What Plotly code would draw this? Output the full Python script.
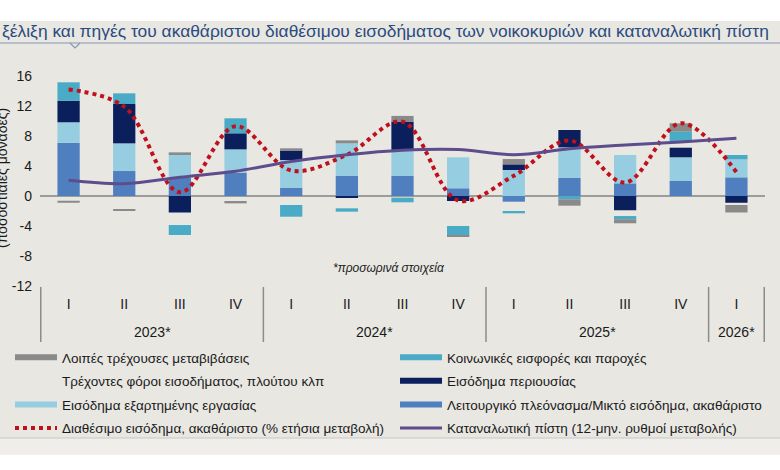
import plotly.graph_objects as go

# ---------------- data ----------------
years = ["2023*"] * 4 + ["2024*"] * 4 + ["2025*"] * 4 + ["2026*"]
quarters = ["I", "II", "III", "IV"] * 3 + ["I"]
y_tick_vals = [-12, -8, -4, 0, 4, 8, 12, 16]
y_tick_text = ["-12", "-8", "-4", "0", "4", "8", "12", "16"]

operating = [7.10, 3.33, 2.44, 3.11, 1.11, 2.67, 2.67, 1.03, -0.76, 2.44, 1.69, 2.00, 2.49]
compensation = [2.73, 3.69, 3.12, 3.11, 3.69, 4.35, 3.47, 4.13, 3.47, 4.05, 3.78, 3.16, 2.40]
property_inc = [2.87, 5.25, -2.20, 2.14, 1.33, -0.20, 3.78, -0.67, 0.75, 2.31, -1.90, 1.28, -0.90]
taxes = [-0.63, -1.75, -1.67, -0.76, -1.20, -1.44, -0.22, -3.33, -1.33, 0.00, -0.77, 0.89, -0.30]
social = [2.46, 1.42, -1.33, 2.00, -1.56, -0.45, -0.62, -1.33, -0.22, -0.44, -0.43, 1.24, 0.58]
other = [-0.27, -0.12, 0.26, -0.22, 0.23, 0.40, 0.76, -0.14, 0.71, -0.85, -0.54, 1.12, -1.00]
disposable = [14.2, 11.9, 0.5, 9.3, 3.4, 5.5, 9.9, -0.6, 2.7, 7.4, 1.8, 9.7, 3.2]
credit = [2.1, 1.65, 2.5, 3.3, 4.6, 5.5, 6.1, 6.2, 5.5, 6.3, 6.8, 7.2, 7.7]

names = {
    "other": "Λοιπές τρέχουσες μεταβιβάσεις",
    "social": "Κοινωνικές εισφορές και παροχές",
    "taxes": "Τρέχοντες φόροι εισοδήματος, πλούτου κλπ",
    "property": "Εισόδημα περιουσίας",
    "comp": "Εισόδημα εξαρτημένης εργασίας",
    "oper": "Λειτουργικό πλεόνασμα/Μικτό εισόδημα, ακαθάριστο",
    "disp": "Διαθέσιμο εισόδημα, ακαθάριστο (% ετήσια μεταβολή)",
    "credit": "Καταναλωτική πίστη (12-μην. ρυθμοί μεταβολής)",
}
colors = {
    "oper": "#4f7fbf",
    "comp": "#96cde0",
    "property": "#0a1f5c",
    "taxes": "rgba(0,0,0,0)",
    "social": "#4aabc6",
    "other": "#8a8a8a",
    "disp": "#c0101c",
    "credit": "#5e4d8c",
}
left_col = ["other", "taxes", "comp"]
right_col = ["social", "property", "oper"]

title_text = ("ξέλιξη και πηγές του ακαθάριστου διαθέσιμου εισοδήματος "
              "των νοικοκυριών και καταναλωτική πίστη")
y_title = "(ποσοστιαίες μονάδες)"
note = "*προσωρινά στοιχεία"

# ---------------- geometry ----------------
W, H = 780, 470
L, R, T, B = 40, 15, 76, 184
PW, PH = W - L - R, H - T - B


def px(x):
    return (x - L) / PW


def py(y):
    return (H - B - y) / PH


FONT = "Liberation Sans, Arial, sans-serif"
cats = [f"{y} {q}" for y, q in zip(years, quarters)]

fig = go.Figure()

stack = [("oper", operating), ("comp", compensation), ("property", property_inc),
         ("taxes", taxes), ("social", social), ("other", other)]
for key, vals in stack:
    fig.add_trace(go.Bar(x=cats, y=vals, name=names[key], marker_color=colors[key],
                         marker_line_width=0, showlegend=False))

# legend entries (line swatches like the original)
for col, lg in ((left_col, "legend"), (right_col, "legend2")):
    for key in col:
        fig.add_trace(go.Scatter(x=[None], y=[None], mode="lines", name=names[key],
                                 legend=lg, legendgroup=key,
                                 line=dict(color=colors[key], width=6)))

fig.add_trace(go.Scatter(x=cats, y=disposable, mode="lines", name=names["disp"],
                         legend="legend", legendgroup="disp",
                         line=dict(color=colors["disp"], width=4, dash="dot",
                                   shape="spline")))
fig.add_trace(go.Scatter(x=cats, y=credit, mode="lines", name=names["credit"],
                         legend="legend2", legendgroup="credit",
                         line=dict(color=colors["credit"], width=3, shape="spline")))

shapes = [
    dict(type="rect", xref="paper", yref="paper", x0=px(0), x1=px(W), y0=py(438), y1=py(21),
         fillcolor="#e8e7e2", line_width=0, layer="below"),
    dict(type="rect", xref="paper", yref="paper", x0=px(0), x1=px(W), y0=py(455), y1=py(438),
         fillcolor="#efeeea", line_width=0, layer="below"),
    dict(type="line", xref="paper", yref="paper", x0=px(0), x1=px(W), y0=py(438), y1=py(438),
         line=dict(color="#c8c8c4", width=1.2), layer="below"),
    dict(type="line", xref="paper", yref="paper", x0=px(0), x1=px(W), y0=py(43), y1=py(43),
         line=dict(color="#8797b6", width=1.2), layer="below"),
    dict(type="path", xref="paper", yref="paper",
         path=f"M {px(70)} {py(43)} L {px(75)} {py(48)} L {px(80)} {py(43)}",
         line=dict(color="#8797b6", width=1.2), layer="below"),
]

# year group labels and dividers, derived from the category arrays
groups = []
for i, yv in enumerate(years):
    if not groups or groups[-1][0] != yv:
        groups.append([yv, i, i])
    else:
        groups[-1][2] = i
annotations = []
for yv, i0, i1 in groups:
    annotations.append(dict(text=yv, xref="x", yref="paper", x=(i0 + i1) / 2, y=py(332),
                            xanchor="center", yanchor="middle", showarrow=False,
                            font=dict(size=14, color="#1a1a1a", family=FONT)))
bounds = [g[1] - 0.5 for g in groups] + [groups[-1][2] + 0.5]
for bx in bounds:
    shapes.append(dict(type="line", xref="x", yref="paper", x0=bx, x1=bx,
                       y0=py(287), y1=py(342), line=dict(color="#8c8c8c", width=1.5)))

annotations += [
    dict(text=title_text, xref="paper", yref="paper", x=px(0), y=py(31), xanchor="left",
         yanchor="middle", showarrow=False, font=dict(size=17.4, color="#2b4b80", family=FONT)),
    dict(text=y_title, xref="paper", yref="paper", x=px(2), y=py(178), xanchor="center",
         yanchor="middle", textangle=-90, showarrow=False,
         font=dict(size=14, color="#1a1a1a", family=FONT)),
    dict(text=f"<i>{note}</i>", xref="paper", yref="paper", x=px(389), y=py(268),
         xanchor="center", yanchor="middle", showarrow=False,
         font=dict(size=12, color="#1a1a1a", family=FONT)),
]

leg_common = dict(orientation="v", xanchor="left", yanchor="top", itemwidth=42,
                  traceorder="grouped", tracegroupgap=3,
                  font=dict(size=13.5, color="#1a1a1a", family=FONT),
                  bgcolor="rgba(0,0,0,0)")

fig.update_layout(
    width=W, height=H, margin=dict(l=L, r=R, t=T, b=B, autoexpand=False),
    paper_bgcolor="white", plot_bgcolor="rgba(0,0,0,0)",
    barmode="relative", bargap=0.6,
    font=dict(family=FONT, size=13, color="#1a1a1a"),
    shapes=shapes, annotations=annotations,
    legend=dict(x=px(10), y=py(342), **leg_common),
    legend2=dict(x=px(395), y=py(342), **leg_common),
    xaxis=dict(type="category", tickvals=cats, ticktext=quarters, showgrid=False,
               showline=False, ticks="", ticklabelstandoff=8, automargin=False,
               tickfont=dict(size=14, color="#1a1a1a", family=FONT)),
    yaxis=dict(range=[-12, 16], tickvals=y_tick_vals, ticktext=y_tick_text,
               showgrid=False, zeroline=True,
               zerolinecolor="#9c9c9c", zerolinewidth=1.5, showline=False, ticks="",
               ticklabelstandoff=7, automargin=False,
               tickfont=dict(size=14, color="#1a1a1a", family=FONT)),
)

fig.write_html("out.html", config={"displayModeBar": False},
               post_script="document.body.style.margin='0px';")
